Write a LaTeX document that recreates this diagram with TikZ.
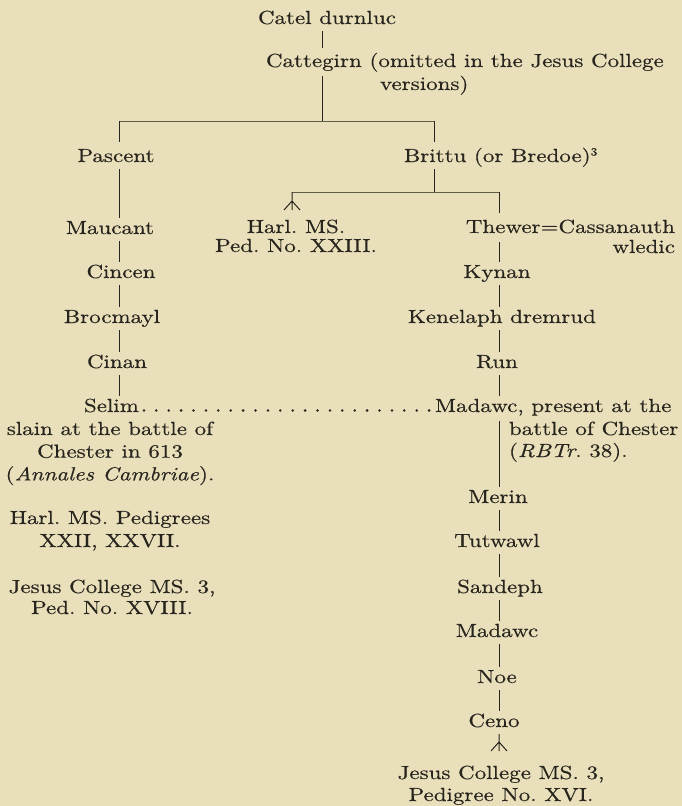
\documentclass[tikz,border=0pt]{standalone}
\usepackage{fontspec}
\setmainfont{lmroman10-regular.otf}[ItalicFont=lmroman10-italic.otf, FakeStretch=1.21, FakeBold=0.4]
\usetikzlibrary{calc}
\definecolor{paper}{RGB}{233,224,187}
\definecolor{ink}{RGB}{40,36,30}
\newcommand{\fsz}{\fontsize{19}{22.7}\selectfont\frenchspacing}
\newcommand{\mystack}[3]{{\fontsize{19}{#1}\selectfont\frenchspacing\begin{tabular}[t]{@{}#2@{}}#3\end{tabular}}}
\newcommand{\supthree}{\raisebox{6.5pt}{\fontsize{11}{11}\selectfont 3}}
\begin{document}
\begin{tikzpicture}[x=1pt,y=-1pt,
  every node/.style={inner sep=0pt, outer sep=0pt, text=ink, font=\fsz},
  person/.style={inner ysep=3pt, text height=13pt, text depth=4pt},
  link/.style={draw=ink, line width=1pt},
  bar/.style={draw=ink!70!paper, line width=0.9pt},
  dotrow/.style={draw=ink, line width=2.8pt, line cap=round, dash pattern=on 0pt off 12.4pt}]
\useasboundingbox (0,0) rectangle (682,806);
\fill[paper] (0,0) rectangle (682,806);

% column coordinates
\coordinate (ccol) at (322,0);
\coordinate (lcol) at (119,0);
\coordinate (bcol) at (434,0);
\coordinate (rcol) at (499,0);
\coordinate (barL) at (119,121);
\coordinate (barR) at (434,121);
\coordinate (sbarL) at (292,192);
\coordinate (sbarR) at (499,192);

% top
\node[person, anchor=base] (catel) at (327,24) {Catel durnluc};
\node[anchor=base west] (catt) at (266,67) {\mystack{23}{l}{Cattegirn (omitted in the Jesus College\\\hspace*{114pt}versions)}};

% left line
\node[person, anchor=base] (pascent) at (116,162) {Pascent};
\node[person, anchor=base] (maucant) at (110,234) {Maucant};
\node[person, anchor=base] (cincen) at (121,278) {Cincen};
\node[person, anchor=base] (brocmayl) at (112,323) {Brocmayl};
\node[person, anchor=base] (cinan) at (117,368) {Cinan};
\node[person, anchor=base west] (selim) at (84,412) {Selim};
\node[anchor=base] (selimnote) at (110,435) {\mystack{22.7}{c}{slain at the battle of\\Chester in 613\\(\textit{Annales Cambriae}).}};
\node[anchor=base] (harlL) at (110,524) {\mystack{23}{c}{Harl. MS. Pedigrees\\XXII, XXVII.}};
\node[anchor=base] (jesusL) at (112,593) {\mystack{21}{c}{Jesus College MS. 3,\\Ped. No. XVIII.}};

% right line
\node[person, anchor=base west] (brittu) at (404,162) {Brittu (or Bredoe)\supthree};
\node[anchor=base] (harl) at (296,233) {\mystack{19}{c}{Harl. MS.\\Ped. No. XXIII.}};
\node[anchor=base east] (thewer) at (675,233) {\mystack{20}{r}{Thewer=Cassanauth\\wledic}};
\node[person, anchor=base] (kynan) at (497,278) {Kynan};
\node[person, anchor=base west] (kenelaph) at (408,323) {Kenelaph dremrud};
\node[person, anchor=base] (run) at (497,368) {Run};
\node[person, anchor=base west] (madawc) at (435,412) {Madawc, present at the};
\node[anchor=base west] (madawcnote) at (509,435) {\mystack{22}{l}{battle of Chester\\(\textit{RBTr}. 38).}};
\node[person, anchor=base] (merin) at (498,503) {Merin};
\node[person, anchor=base] (tutwawl) at (497,547) {Tutwawl};
\node[person, anchor=base] (sandeph) at (500,593) {Sandeph};
\node[person, anchor=base] (madawc2) at (497,637) {Madawc};
\node[person, anchor=base] (noe) at (497,683) {Noe};
\node[person, anchor=base] (ceno) at (494,727) {Ceno};
\node[anchor=base] (jesusR) at (501,779) {\mystack{22}{c}{Jesus College MS. 3,\\Pedigree No. XVI.}};

% connectors, top
\draw[link] (catel.south -| ccol) -- ($(catt.north -| ccol)+(0,-3)$);
\draw[link] ($(catt.base -| ccol)+(0,9)$) -- (ccol |- barL);
\draw[bar] (barL) -- (barR);
\draw[link] (barL) -- ($(pascent.north -| lcol)+(0,-4)$);
\draw[link] (barR) -- ($(brittu.north -| bcol)+(0,-4)$);

% left descent
\draw[link] (pascent.south -| lcol) -- (maucant.north -| lcol);
\draw[link] (maucant.south -| lcol) -- (cincen.north -| lcol);
\draw[link] (cincen.south -| lcol) -- (brocmayl.north -| lcol);
\draw[link] (brocmayl.south -| lcol) -- (cinan.north -| lcol);
\draw[link] (cinan.south -| lcol) -- (selim.north -| lcol);

% Selim ... Madawc
\draw[dotrow] ($(selim.base east)+(5,-1.5)$) -- ($(madawc.base west)+(-3,-1.5)$);

% Brittu branches
\draw[link] (brittu.south -| bcol) -- (bcol |- sbarL);
\draw[bar] (sbarL) -- (sbarR);
\draw[link] (sbarL) -- ++(0,18) ++(-8,0) -- ++(8,-9) -- ++(8,9);
\draw[link] (sbarR) -- ($(thewer.north -| rcol)+(0,-6)$);
\draw[link] ($(thewer.base -| rcol)+(0,9)$) -- (kynan.north -| rcol);
\draw[link] (kynan.south -| rcol) -- (kenelaph.north -| rcol);
\draw[link] (kenelaph.south -| rcol) -- (run.north -| rcol);
\draw[link] (run.south -| rcol) -- (madawc.north -| rcol);
\draw[link] ($(madawc.base -| rcol)+(0,9)$) -- (merin.north -| rcol);
\draw[link] (merin.south -| rcol) -- (tutwawl.north -| rcol);
\draw[link] (tutwawl.south -| rcol) -- (sandeph.north -| rcol);
\draw[link] (sandeph.south -| rcol) -- (madawc2.north -| rcol);
\draw[link] (madawc2.south -| rcol) -- (noe.north -| rcol);
\draw[link] (noe.south -| rcol) -- (ceno.north -| rcol);
\draw[link] (ceno.south -| rcol) -- ++(0,17) ++(-8,0) -- ++(8,-9) -- ++(8,9);
\end{tikzpicture}
\end{document}
